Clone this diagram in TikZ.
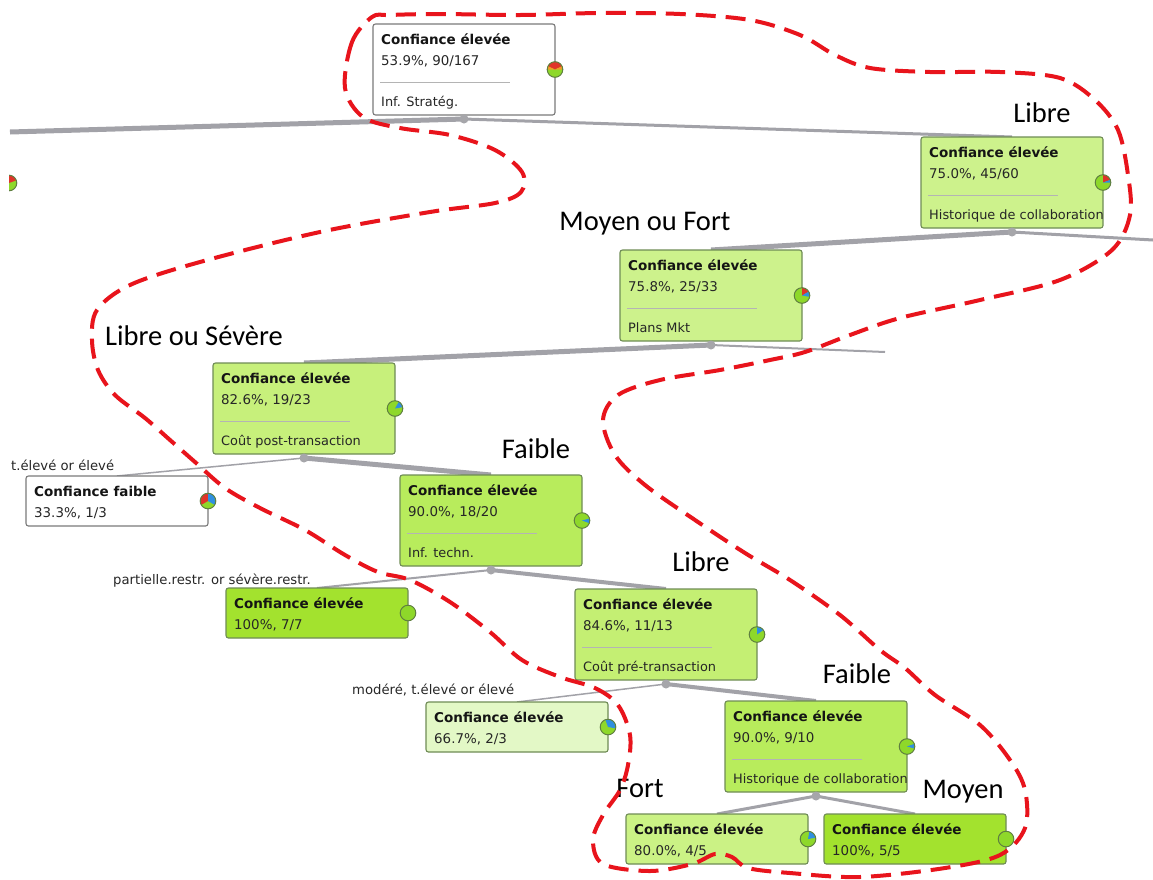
\documentclass[tikz,border=0pt]{standalone}
\usepackage{fontspec}
\setmainfont{DejaVu Sans}
\newfontfamily\lblfont{Carlito}
\usetikzlibrary{calc}
\pgfdeclarelayer{bg}
\pgfsetlayers{bg,main}
\definecolor{cw}{HTML}{FFFFFF}
\definecolor{chund}{HTML}{A3E22E}
\definecolor{cninety}{HTML}{B8EC5C}
\definecolor{ceightyfour}{HTML}{C4EF73}
\definecolor{ceightytwo}{HTML}{C7F07B}
\definecolor{ceighty}{HTML}{CBF285}
\definecolor{cseventyfive}{HTML}{CDF28C}
\definecolor{csixtyseven}{HTML}{E3F8C6}
\definecolor{bgreen}{HTML}{6F8C55}
\definecolor{bgray}{HTML}{7A7A7A}
\definecolor{txtdark}{HTML}{141414}
\definecolor{txtmid}{HTML}{262626}
\definecolor{sepgray}{HTML}{B4B4B4}
\definecolor{dotgray}{HTML}{A6A6AA}
\definecolor{edgegray}{HTML}{A2A2A8}
\definecolor{redd}{HTML}{E8141C}
\definecolor{pgreen}{HTML}{8ED82A}
\definecolor{pred}{HTML}{E0342A}
\definecolor{pblue}{HTML}{2F8FE0}
\definecolor{porange}{HTML}{F29B26}
\definecolor{pborder}{HTML}{5F7F40}
\tikzset{
  x=1pt, y=-1pt,
  tbox/.style={draw=#1, line width=1.1pt, rounded corners=2.5pt, minimum width=182pt,
    anchor=north west, inner sep=0pt, outer sep=0pt},
  tone/.style={anchor=base west, inner sep=0pt, font=\fontsize{13.5}{16}\selectfont\bfseries, text=txtdark},
  ttwo/.style={anchor=base west, inner sep=0pt, font=\fontsize{13.4}{16}\selectfont, text=txtmid},
  tthree/.style={anchor=base west, inner sep=0pt, font=\fontsize{12.9}{16}\selectfont, text=txtmid},
  sepline/.style={draw=sepgray, line width=1pt},
  dotn/.style={circle, fill=dotgray, inner sep=0pt, minimum size=9pt},
  edgeline/.style={draw=edgegray},
  elabel/.style={anchor=base west, inner sep=0pt, font=\fontsize{13.2}{15}\selectfont, text=txtmid},
  blabel/.style={anchor=base, inner sep=0pt, font=\lblfont\fontsize{28.5}{34}\selectfont, text=black},
  redcurve/.style={draw=redd, line width=4pt, dash pattern=on 20pt off 10pt},
}
\newcommand{\threebox}[7]{%
  \node[tbox=#5, fill=#4, minimum height=91pt] (#1) at (#2,#3) {};
  \node[tone] (#1-a) at ($(#1.north west)+(8,20)$) {Confiance élevée};
  \node[ttwo] (#1-b) at ($(#1.north west)+(8,41)$) {#6};
  \draw[sepline] ($(#1.north west)+(7,58)$) -- ++(130pt,0pt);
  \node[tthree] (#1-c) at ($(#1.north west)+(8,82)$) {#7};
  \node[dotn] (#1-d) at ($(#1.south)+(0,4)$) {};
}
\newcommand{\twobox}[7]{%
  \node[tbox=#5, fill=#4, minimum height=50pt] (#1) at (#2,#3) {};
  \node[tone] (#1-a) at ($(#1.north west)+(8,20)$) {#6};
  \node[ttwo] (#1-b) at ($(#1.north west)+(8,41)$) {#7};
}
\newcommand{\piechart}[2]{%
  \fill[pgreen] (#1) circle (7.8pt);
  \foreach \a/\b/\c in {#2} {\fill[\c] (#1) -- ++(\a:7.8pt) arc[start angle=\a, end angle=\b, radius=7.8pt] -- cycle;}
  \draw[pborder, line width=1pt] (#1) circle (7.8pt);
}
\begin{document}
\begin{tikzpicture}
\useasboundingbox (0,0) rectangle (1153,879);
% boxes
\threebox{n1}{373}{24}{cw}{bgray}{53.9\%, 90/167}{Inf. Stratég.}
\threebox{n2}{921}{137}{cseventyfive}{bgreen}{75.0\%, 45/60}{Historique de collaboration}
\threebox{n3}{620}{250}{cseventyfive}{bgreen}{75.8\%, 25/33}{Plans Mkt}
\threebox{n4}{213}{363}{ceightytwo}{bgreen}{82.6\%, 19/23}{Coût post-transaction}
\twobox{n5}{26}{476}{cw}{bgray}{Confiance faible}{33.3\%, 1/3}
\threebox{n6}{400}{475}{cninety}{bgreen}{90.0\%, 18/20}{Inf. techn.}
\twobox{n7}{226}{588}{chund}{bgreen}{Confiance élevée}{100\%, 7/7}
\threebox{n8}{575}{589}{ceightyfour}{bgreen}{84.6\%, 11/13}{Coût pré-transaction}
\twobox{n9}{426}{702}{csixtyseven}{bgreen}{Confiance élevée}{66.7\%, 2/3}
\threebox{n10}{725}{701}{cninety}{bgreen}{90.0\%, 9/10}{Historique de collaboration}
\twobox{n11}{626}{814}{ceighty}{bgreen}{Confiance élevée}{80.0\%, 4/5}
\twobox{n12}{824}{814}{chund}{bgreen}{Confiance élevée}{100\%, 5/5}
% pies
\piechart{n1.east}{25/155/pred, 155/180/porange, 0/25/porange}
\piechart{n2.east}{20/90/pred, 0/20/pblue}
\piechart{n3.east}{30/90/pred, -10/30/pblue}
\piechart{n4.east}{10/60/pblue}
\piechart{n5.east}{90/210/pred, -30/90/pblue}
\piechart{n6.east}{-20/15/pblue}
\piechart{n7.east}{90/90/pgreen}
\piechart{n8.east}{35/90/pblue}
\piechart{n9.east}{-10/110/pblue}
\piechart{n10.east}{-15/20/pblue}
\piechart{n11.east}{10/80/pblue}
\piechart{n12.east}{90/90/pgreen}
\coordinate (lpie) at (9,183);
\begin{scope}
\clip (9,170) rectangle (25,200);
\piechart{lpie}{20/160/pred}
\end{scope}
% loose ends
\coordinate (lend) at (10,132);
\coordinate (rendA) at (1153,240);
\coordinate (rendB) at (885,352);
% edges
\begin{pgfonlayer}{bg}
\fill[white] (0,0) rectangle (1153,879);
\draw[edgeline, line width=5pt] (n1-d.center) -- (lend);
\draw[edgeline, line width=3pt] (n1-d.center) -- (n2.north);
\draw[edgeline, line width=5pt] (n2-d.center) -- (n3.north);
\draw[edgeline, line width=3pt] (n2-d.center) -- (rendA);
\draw[edgeline, line width=5pt] (n3-d.center) -- (n4.north);
\draw[edgeline, line width=2pt] (n3-d.center) -- (rendB);
\draw[edgeline, line width=1.5pt] (n4-d.center) -- (n5.north);
\draw[edgeline, line width=5pt] (n4-d.center) -- (n6.north);
\draw[edgeline, line width=2pt] (n6-d.center) -- (n7.north);
\draw[edgeline, line width=4pt] (n6-d.center) -- (n8.north);
\draw[edgeline, line width=1.5pt] (n8-d.center) -- (n9.north);
\draw[edgeline, line width=4pt] (n8-d.center) -- (n10.north);
\draw[edgeline, line width=3pt] (n10-d.center) -- (n11.north);
\draw[edgeline, line width=3pt] (n10-d.center) -- (n12.north);
\end{pgfonlayer}
% edge labels
\node[elabel] (e1) at (11,470) {t.élevé or élevé};
\node[elabel] (e2) at (113,584) {partielle.restr. or sévère.restr.};
\node[elabel] (e3) at (352,694) {modéré, t.élevé or élevé};
% big labels
\node[blabel] (L1) at (1042,122) {Libre};
\node[blabel] (L2) at (645,230) {Moyen ou Fort};
\node[blabel] (L3) at (194,345) {Libre ou Sévère};
\node[blabel] (L4) at (536,458) {Faible};
\node[blabel] (L5) at (701,571) {Libre};
\node[blabel] (L6) at (857,683) {Faible};
\node[blabel] (L7) at (640,797) {Fort};
\node[blabel] (L8) at (963,798) {Moyen};
% red hand-drawn loop
\draw[redcurve] plot[smooth cycle, tension=0.55] coordinates {
 (372,17) (352,42) (345,88) (363,117) (400,128) (450,135) (495,150) (522,172) (521,192)
 (495,203) (430,212) (320,232) (200,262) (130,285) (97,310) (92,340) (98,370) (115,395)
 (145,418) (170,440) (195,462) (225,488) (260,508) (305,530) (345,555) (378,572) (410,580)
 (450,602) (490,632) (522,660) (560,677) (595,688) (618,705) (630,735) (628,765) (620,790)
 (603,815) (593,840) (603,864) (650,871) (692,864) (715,854) (732,857) (748,868) (790,873)
 (860,877) (945,868) (1000,855) (1025,828) (1025,790) (1010,760) (980,725) (935,695)
 (905,668) (880,650) (840,615) (790,580) (745,553) (695,520) (645,485) (615,455) (603,420)
 (618,395) (660,380) (720,370) (770,360) (805,352) (850,335) (900,318) (980,300) (1060,280)
 (1112,250) (1130,215) (1128,175) (1118,130) (1095,100) (1060,78) (1000,72) (930,72)
 (870,68) (835,55) (800,35) (750,20) (680,14) (600,13) (520,15) (440,14) (390,15)};
\end{tikzpicture}
\end{document}
